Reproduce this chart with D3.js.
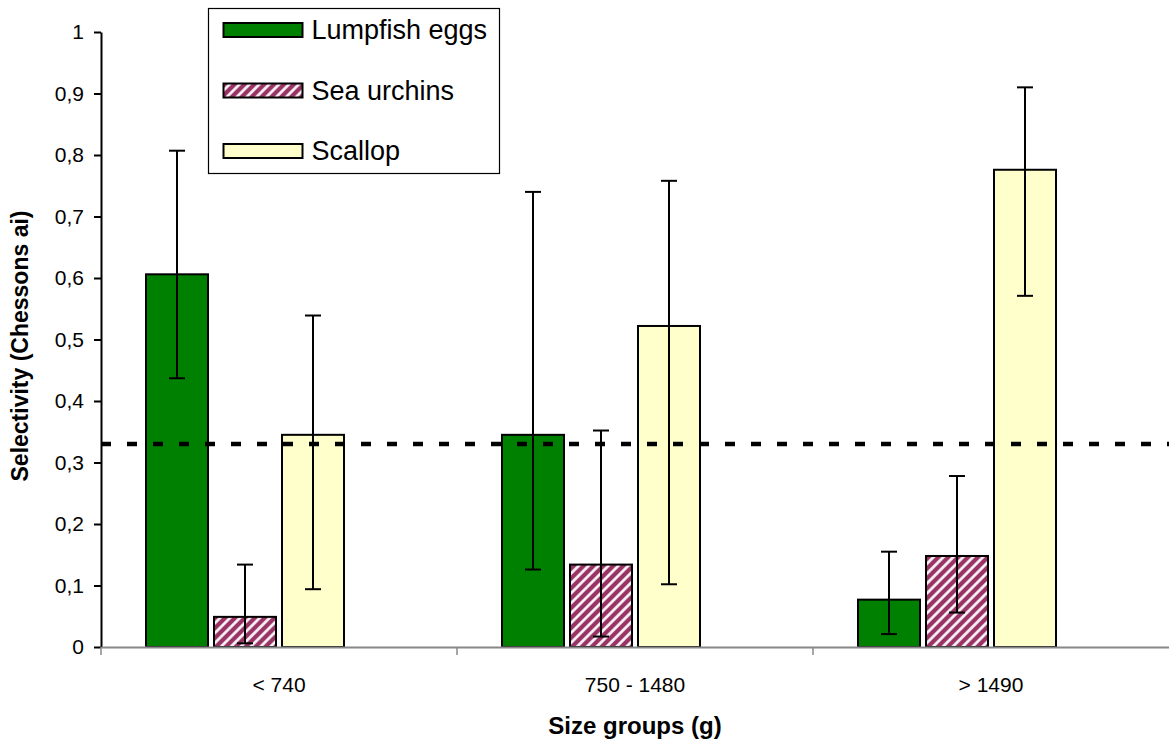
<!DOCTYPE html>
<html>
<head>
<meta charset="utf-8">
<script src="https://cdn.jsdelivr.net/npm/d3@7/dist/d3.min.js"></script>
<style>
  body { margin: 0; background: #fff; }
  text { font-family: Arial, "Liberation Sans", sans-serif; fill: #000; }
</style>
</head>
<body>
<div id="chart"></div>
<script>
// values
var categories = ["< 740", "750 - 1480", "> 1490"];
var seriesNames = ["Lumpfish eggs", "Sea urchins", "Scallop"];
var lumpfish = [0.606, 0.345, 0.077];
var seaUrchins = [0.049, 0.134, 0.148];
var scallop = [0.345, 0.522, 0.776];
var lumpfishHigh = [0.807, 0.740, 0.155];
var lumpfishLow = [0.437, 0.126, 0.021];
var urchinHigh = [0.134, 0.352, 0.278];
var urchinLow = [0.006, 0.017, 0.056];
var scallopHigh = [0.539, 0.758, 0.910];
var scallopLow = [0.094, 0.102, 0.571];
var neutralLine = 0.33;
var yTickValues = [0, 0.1, 0.2, 0.3, 0.4, 0.5, 0.6, 0.7, 0.8, 0.9, 1];

var svg = d3.select("#chart").append("svg").attr("width", 1169).attr("height", 742),
    margin = {top: 32, right: 0, bottom: 95, left: 101},
    width = +svg.attr("width") - margin.left - margin.right,
    height = +svg.attr("height") - margin.top - margin.bottom;

var defs = svg.append("defs");
var pat = defs.append("pattern")
    .attr("id", "hatch")
    .attr("patternUnits", "userSpaceOnUse")
    .attr("width", 7).attr("height", 7)
    .attr("patternTransform", "rotate(45)");
pat.append("rect").attr("width", 7).attr("height", 7).attr("fill", "#993366");
pat.append("line").attr("x1", 1.5).attr("y1", 0).attr("x2", 1.5).attr("y2", 7)
    .attr("stroke", "#fff").attr("stroke-width", 2.6);

var fills = ["#008000", "url(#hatch)", "#FFFFCC"];

var rows = categories.map(function(c, i) {
    return {
        cat: c,
        bars: [
            {s: 0, v: lumpfish[i], hi: lumpfishHigh[i], lo: lumpfishLow[i]},
            {s: 1, v: seaUrchins[i], hi: urchinHigh[i], lo: urchinLow[i]},
            {s: 2, v: scallop[i], hi: scallopHigh[i], lo: scallopLow[i]}
        ]
    };
});

var x0 = d3.scaleBand().domain(categories).range([0, width]);
// Excel left a fourth empty slot in each cluster
var x1 = d3.scaleBand().domain([0, 1, 2, 3]).range([45, 317]);
var y = d3.scaleLinear().domain([0, 1]).range([height, 0]);

var g = svg.append("g").attr("transform", "translate(" + margin.left + "," + margin.top + ")");

// y axis
var yAxis = g.append("g")
    .call(d3.axisLeft(y).tickValues(yTickValues).tickSizeOuter(0).tickSizeInner(7).tickPadding(10)
        .tickFormat(function(d) { return String(d).replace(".", ","); }));
yAxis.select(".domain").attr("stroke", "#000").attr("stroke-width", 2);
yAxis.selectAll(".tick line").attr("stroke", "#000").attr("stroke-width", 2);
yAxis.selectAll(".tick text").attr("font-size", 21).attr("font-family", "Arial, 'Liberation Sans', sans-serif");

// bars
var groups = g.selectAll(".grp")
    .data(rows)
    .enter().append("g")
    .attr("class", "grp")
    .attr("transform", function(d) { return "translate(" + x0(d.cat) + ",0)"; });

groups.selectAll("rect")
    .data(function(d) { return d.bars; })
    .enter().append("rect")
    .attr("x", function(d) { return x1(d.s); })
    .attr("width", x1.bandwidth() - 6)
    .attr("y", function(d) { return y(d.v); })
    .attr("height", function(d) { return height - y(d.v); })
    .attr("fill", function(d) { return fills[d.s]; })
    .attr("stroke", "#000")
    .attr("stroke-width", 2);

// error bars
var err = groups.selectAll(".err")
    .data(function(d) { return d.bars; })
    .enter().append("g")
    .attr("class", "err")
    .attr("transform", function(d) { return "translate(" + (x1(d.s) + (x1.bandwidth() - 6) / 2) + ",0)"; });
err.append("line").attr("x1", 0).attr("x2", 0)
    .attr("y1", function(d) { return y(d.hi); })
    .attr("y2", function(d) { return y(d.lo); });
err.append("line").attr("x1", -8).attr("x2", 8)
    .attr("y1", function(d) { return y(d.hi); })
    .attr("y2", function(d) { return y(d.hi); });
err.append("line").attr("x1", -8).attr("x2", 8)
    .attr("y1", function(d) { return y(d.lo); })
    .attr("y2", function(d) { return y(d.lo); });
err.selectAll("line").attr("stroke", "#000").attr("stroke-width", 2);

// x axis
var xAxis = g.append("g")
    .attr("transform", "translate(0," + height + ")")
    .call(d3.axisBottom(x0).tickSize(0).tickPadding(30));
xAxis.select(".domain").attr("stroke", "#888").attr("stroke-width", 2);
xAxis.selectAll(".tick text").attr("font-size", 21).attr("font-family", "Arial, 'Liberation Sans', sans-serif");
xAxis.selectAll(".sep")
    .data(categories)
    .enter().append("line")
    .attr("class", "sep")
    .attr("x1", function(d) { return x0(d); })
    .attr("x2", function(d) { return x0(d); })
    .attr("y1", 0).attr("y2", 8)
    .attr("stroke", "#888").attr("stroke-width", 1.5);

// 1/3 reference line
g.append("line")
    .attr("x1", 0).attr("x2", width)
    .attr("y1", y(neutralLine)).attr("y2", y(neutralLine))
    .attr("stroke", "#000").attr("stroke-width", 4.5)
    .attr("stroke-dasharray", "10,16");

// axis titles
svg.append("text")
    .attr("x", margin.left + width / 2).attr("y", 734)
    .attr("text-anchor", "middle")
    .attr("font-size", 24).attr("font-weight", "bold")
    .text("Size groups (g)");
svg.append("text")
    .attr("transform", "translate(28," + 346 + ") rotate(-90)")
    .attr("text-anchor", "middle")
    .attr("font-size", 23).attr("font-weight", "bold")
    .text("Selectivity (Chessons ai)");

// legend
var legend = svg.append("g").attr("transform", "translate(208.5,8.5)");
legend.append("rect").attr("width", 291).attr("height", 165)
    .attr("fill", "#fff").attr("stroke", "#000").attr("stroke-width", 1.2);
var items = legend.selectAll(".item")
    .data(seriesNames)
    .enter().append("g")
    .attr("class", "item")
    .attr("transform", function(d, i) { return "translate(0," + (14.5 + i * 60.5) + ")"; });
items.append("rect")
    .attr("x", 15).attr("width", 79).attr("height", 14)
    .attr("fill", function(d, i) { return fills[i]; })
    .attr("stroke", "#000").attr("stroke-width", 2);
items.append("text")
    .attr("x", 103).attr("y", 16)
    .attr("font-size", 27)
    .text(function(d) { return d; });
</script>
</body>
</html>
